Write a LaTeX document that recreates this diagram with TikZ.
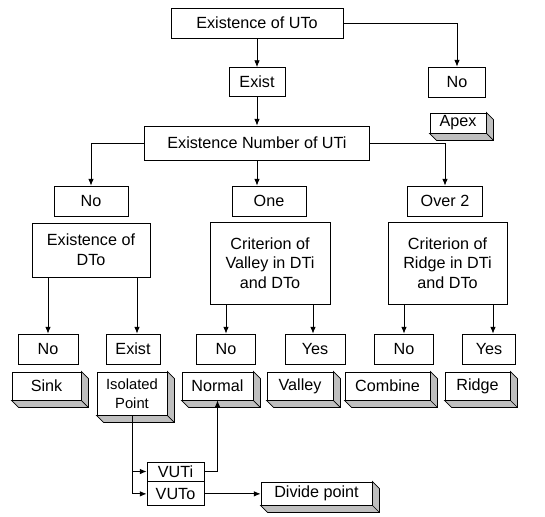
\documentclass[tikz,border=0pt]{standalone}
\usepackage{fontspec}
\setmainfont{Liberation Sans}
\usetikzlibrary{positioning,arrows.meta,calc}

\begin{document}
\begin{tikzpicture}[
      x=0.025cm, y=-0.025cm,
      every node/.style={font=\fontsize{11.5pt}{14pt}\selectfont},
      box/.style={draw, line width=0.6pt, fill=white, align=center,
                  inner sep=1pt, minimum height=0.75cm},
      block/.style={box, minimum height=0.7cm},
      shade3d/.style={draw, line width=0.5pt, fill=gray!50},
      link/.style={-{Latex[length=1.7mm,width=1.4mm]}, line width=0.6pt},
    ]
      \useasboundingbox (0,0) rectangle (545,516);

      % top level
      \node[box, minimum width=4.3cm] (uto) at (257,23) {Existence of UTo};
      \node[box, minimum width=1.4cm, minimum height=0.725cm] (exist) at (257,82) {Exist};
      \node[box, minimum width=1.425cm] (noapex) at (457,82) {No};
      \node[block, minimum width=1.4cm, minimum height=0.5cm] (apex) at (458,123) {Apex};
      \node[box, minimum width=5.625cm, minimum height=0.85cm] (number) at (257,143) {Existence Number of UTi};

      % second level
      \node[box, minimum width=1.85cm] (nodto) at (91,201) {No};
      \node[box, minimum width=1.85cm] (one) at (269,201) {One};
      \node[box, minimum width=1.875cm] (over) at (445,201) {Over 2};
      \node[box, minimum width=2.95cm, minimum height=1.35cm] (dto) at (91,250) {Existence of\\DTo};
      \node[box, minimum width=3cm, minimum height=2.05cm] (valleycrit) at (270,263) {Criterion of\\Valley in DTi\\and DTo};
      \node[box, minimum width=2.975cm, minimum height=2.05cm] (ridgecrit) at (447.5,263) {Criterion of\\Ridge in DTi\\and DTo};

      % answers
      \node[box, minimum width=1.5cm] (nosink) at (48,349) {No};
      \node[box, minimum width=1.35cm] (existiso) at (133,349) {Exist};
      \node[box, minimum width=1.475cm] (novalley) at (226,349) {No};
      \node[box, minimum width=1.5cm] (yesvalley) at (315,349) {Yes};
      \node[box, minimum width=1.475cm] (noridge) at (404,349) {No};
      \node[box, minimum width=1.325cm] (yesridge) at (489,349) {Yes};

      % results
      \node[block, minimum width=1.725cm] (sink) at (46.5,386) {Sink};
      \node[block, minimum width=1.75cm, minimum height=1.075cm,
            font=\fontsize{10.5pt}{13.5pt}\selectfont] (iso) at (132,393.5) {Isolated\\Point};
      \node[block, minimum width=1.775cm] (normal) at (217.5,386) {Normal};
      \node[block, minimum width=1.65cm] (valley) at (300,386) {Valley};
      \node[block, minimum width=2.125cm] (combine) at (387.5,386) {Combine};
      \node[block, minimum width=1.625cm] (ridge) at (477.5,386) {Ridge};

      \node[box, minimum width=1.425cm, minimum height=0.475cm] (vuti) at (175.5,471.5) {VUTi};
      \node[box, minimum width=1.425cm, minimum height=0.6cm, anchor=north] (vuto) at (vuti.south) {VUTo};
      \node[block, minimum width=2.775cm, minimum height=0.575cm] (divide) at (316.5,493.5) {Divide point};

      % raised sides of the result boxes
      \foreach \n in {apex,sink,iso,normal,valley,combine,ridge,divide} {
        \draw[shade3d] (\n.north east) -- ++(7,7) -- ($(\n.south east)+(7,7)$)
          -- ($(\n.south west)+(7,7)$) -- (\n.south west) -- (\n.south east) -- cycle;
        \draw[line width=0.5pt] (\n.south east) -- ++(7,7);
      }

      \draw[link] (uto) -- (exist);
      \draw[link] (uto.east) -| (noapex.north);
      \draw[link] (exist) -- (number);
      \draw[link] (number.west) -| (nodto.north);
      \draw[link] (number.south) -- (number.south |- one.north);
      \draw[link] (number.east) -| (over.north);

      \draw[link] (dto.south -| nosink.north) -- (nosink.north);
      \draw[link] ([xshift=4*0.025cm]dto.south -| existiso.north) -- ([xshift=4*0.025cm]existiso.north);
      \draw[link] (valleycrit.south -| novalley.north) -- (novalley.north);
      \draw[link] ([xshift=-2*0.025cm]valleycrit.south -| yesvalley.north) -- ([xshift=-2*0.025cm]yesvalley.north);
      \draw[link] (ridgecrit.south -| noridge.north) -- (noridge.north);
      \draw[link] ([xshift=4*0.025cm]ridgecrit.south -| yesridge.north) -- ([xshift=4*0.025cm]yesridge.north);

      \draw[link] (iso.south) |- (vuti.west);
      \draw[link] (iso.south) |- (vuto.west);
      \draw[link] (vuti.east) -| (normal.south);
      \draw[link] (vuto.east) -- (vuto.east -| divide.west);

    \end{tikzpicture}
\end{document}
